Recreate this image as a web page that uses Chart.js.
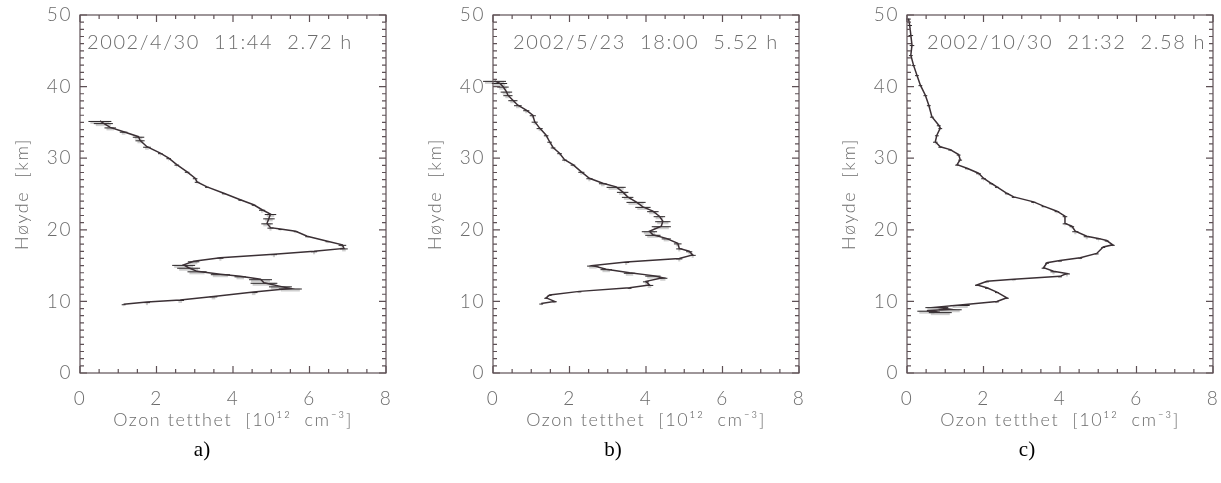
<!DOCTYPE html>
<html>
<head>
<meta charset="utf-8">
<script src="https://cdn.jsdelivr.net/npm/chart.js@4/dist/chart.umd.min.js"></script>
<style>
  body { margin: 0; background: #fff; width: 1221px; height: 483px; position: relative; overflow: hidden; }
  .panel { position: absolute; top: 0; width: 394px; height: 483px; }
  .lab { position: absolute; top: 437px; font-family: "Liberation Serif", serif; font-size: 21px; color: #000; transform: translateX(-50%); }
</style>
</head>
<body>
<div class="panel" style="left:0px"><canvas id="chart-a"></canvas></div>
<div class="panel" style="left:413px"><canvas id="chart-b"></canvas></div>
<div class="panel" style="left:827px"><canvas id="chart-c"></canvas></div>
<div class="lab" style="left:202px">a)</div>
<div class="lab" style="left:613px">b)</div>
<div class="lab" style="left:1027px">c)</div>

<script>
// a) 2002/4/30
var altA = [35.2, 34.9, 34.3, 33.7, 33.0, 32.5, 31.6, 30.7, 30.0, 29.1, 28.1, 27.2, 26.7, 26.0, 25.1, 24.2, 23.5, 22.8, 22.2, 21.6,
  20.9, 20.3, 20.1, 19.8, 19.1, 18.4, 17.9, 17.4, 17.0, 16.6, 16.1, 15.6, 15.1, 14.7, 14.2, 13.8, 13.5, 13.1, 12.6, 12.1,
  11.8, 11.3, 10.7, 10.2, 9.9, 9.6];
var ozA = [0.52, 0.61, 0.79, 1.14, 1.53, 1.57, 1.75, 2.10, 2.32, 2.53, 2.80, 3.01, 3.06, 3.32, 3.76, 4.19, 4.54, 4.76, 4.98, 4.94,
  4.89, 4.98, 5.24, 5.64, 5.94, 6.47, 6.86, 6.90, 6.12, 5.07, 3.67, 2.97, 2.71, 2.84, 3.06, 3.67, 4.19, 4.72, 4.81, 5.24,
  5.50, 4.54, 3.49, 2.62, 1.75, 1.14];
var errA = [0.30, 0.25, 0.15, 0.10, 0.15, 0.12, 0.10, 0.06, 0.06, 0.06, 0.06, 0.06, 0.06, 0.05, 0.05, 0.05, 0.05, 0.08, 0.15, 0.15,
  0.15, 0.08, 0.05, 0.05, 0.05, 0.05, 0.10, 0.10, 0.08, 0.08, 0.08, 0.15, 0.30, 0.30, 0.25, 0.25, 0.15, 0.30, 0.35, 0.30,
  0.30, 0.10, 0.10, 0.10, 0.08, 0.05];

// b) 2002/5/23
var altB = [40.8, 40.5, 40.0, 39.3, 38.8, 38.1, 37.4, 36.7, 36.0, 35.1, 34.2, 33.2, 32.3, 31.5, 30.7, 29.8, 29.1, 28.1, 27.2, 26.5,
  26.0, 25.3, 24.6, 23.9, 23.2, 22.6, 21.9, 21.2, 20.5, 19.8, 19.3, 18.8, 18.1, 17.4, 17.0, 16.5, 16.0, 15.5, 15.0, 14.5,
  14.0, 13.6, 13.3, 12.8, 12.3, 11.9, 11.4, 10.9, 10.5, 10.0, 9.7];
var ozB = [0.04, 0.17, 0.26, 0.35, 0.39, 0.52, 0.65, 0.87, 1.04, 1.09, 1.22, 1.39, 1.48, 1.57, 1.74, 1.87, 2.09, 2.31, 2.52, 2.87,
  3.22, 3.39, 3.52, 3.74, 3.92, 4.18, 4.35, 4.44, 4.40, 4.09, 4.18, 4.53, 4.83, 4.87, 5.13, 5.22, 4.87, 3.48, 2.61, 2.96,
  3.57, 4.18, 4.44, 4.00, 4.09, 3.57, 2.26, 1.48, 1.39, 1.61, 1.26];
var errB = [0.30, 0.20, 0.15, 0.15, 0.12, 0.12, 0.10, 0.08, 0.08, 0.08, 0.08, 0.06, 0.06, 0.06, 0.06, 0.06, 0.06, 0.08, 0.08, 0.10,
  0.25, 0.15, 0.15, 0.25, 0.20, 0.15, 0.15, 0.20, 0.25, 0.20, 0.20, 0.12, 0.10, 0.08, 0.08, 0.08, 0.08, 0.08, 0.15, 0.15,
  0.15, 0.20, 0.12, 0.08, 0.10, 0.05, 0.05, 0.05, 0.05, 0.05, 0.05];

// c) 2002/10/30
var altC = [49.5, 48.6, 47.2, 45.8, 44.4, 43.0, 41.6, 40.2, 38.8, 37.4, 35.8, 34.6, 34.2, 33.2, 32.3, 31.6, 31.2, 30.5, 29.8, 29.1,
  28.6, 27.9, 27.2, 26.5, 26.0, 25.1, 24.6, 23.9, 23.3, 22.6, 21.9, 20.9, 20.5, 19.8, 19.1, 18.8, 18.5, 17.9, 17.6, 16.7,
  16.1, 15.7, 15.4, 14.7, 14.2, 13.9, 13.5, 13.1, 12.8, 12.3, 11.9, 11.3, 10.5, 10.0, 9.5, 9.2, 8.9, 8.7, 8.5];
var ozC = [0.04, 0.07, 0.10, 0.13, 0.10, 0.17, 0.26, 0.35, 0.48, 0.57, 0.65, 0.83, 0.87, 0.78, 0.74, 0.87, 1.13, 1.35, 1.39, 1.31,
  1.57, 1.87, 2.00, 2.20, 2.35, 2.61, 2.79, 3.31, 3.57, 3.92, 4.13, 4.13, 4.31, 4.40, 4.70, 5.00, 5.22, 5.38, 5.13, 4.96,
  4.53, 4.00, 3.66, 3.57, 3.83, 4.18, 4.00, 2.79, 2.09, 1.83, 2.09, 2.35, 2.61, 2.35, 1.39, 0.78, 1.13, 0.52, 0.87];
var errC = [0.06, 0.06, 0.06, 0.06, 0.05, 0.05, 0.05, 0.05, 0.05, 0.05, 0.05, 0.05, 0.05, 0.05, 0.06, 0.05, 0.05, 0.05, 0.05, 0.05,
  0.05, 0.06, 0.06, 0.05, 0.05, 0.05, 0.05, 0.06, 0.05, 0.06, 0.06, 0.06, 0.06, 0.08, 0.08, 0.06, 0.05, 0.05, 0.05, 0.05,
  0.05, 0.05, 0.05, 0.05, 0.08, 0.08, 0.05, 0.05, 0.05, 0.05, 0.05, 0.05, 0.05, 0.05, 0.25, 0.30, 0.30, 0.25, 0.30];

var stampA = '2002/4/30  11:44  2.72 h';
var stampB = '2002/5/23  18:00  5.52 h';
var stampC = '2002/10/30  21:32  2.58 h';

var xTitle = 'Ozon tetthet  [10¹²  cm⁻³]';
var yTitle = 'Høyde  [km]';

var lineCol = '#3b3035';
var axisCol = '#5e5055';
var textCol = '#6c6c6c';
var idlFont = 'Lato, "DejaVu Sans", sans-serif';

// wide letter spacing like the IDL vector font
var spacing = {
  id: 'spacing',
  beforeDraw: function (chart) { chart.ctx.letterSpacing = '1.6px'; }
};

// error bars, drawn from the scales
var errBars = {
  id: 'errBars',
  beforeDatasetsDraw: function (chart) {
    var ctx = chart.ctx, x = chart.scales.x, y = chart.scales.y;
    var ds = chart.data.datasets[0];
    ctx.save();
    ds.data.forEach(function (p, i) {
      var e = ds.errors[i];
      var py = y.getPixelForValue(p.y);
      var x1 = x.getPixelForValue(p.x - e), x2 = x.getPixelForValue(p.x + e);
      ctx.strokeStyle = 'rgba(160,160,160,0.5)';
      ctx.lineWidth = 3;
      ctx.beginPath(); ctx.moveTo(x1 + 2, py + 1.5); ctx.lineTo(x2 - 2, py + 1.5); ctx.stroke();
      ctx.strokeStyle = '#2a2527';
      ctx.lineWidth = 1;
      ctx.beginPath(); ctx.moveTo(x1, py + 0.5); ctx.lineTo(x2, py + 0.5); ctx.stroke();
    });
    ctx.restore();
  }
};

// IDL style box: ticks inward on all four sides + date stamp
var boxTicks = {
  id: 'boxTicks',
  afterDraw: function (chart) {
    var ctx = chart.ctx, a = chart.chartArea, x = chart.scales.x, y = chart.scales.y;
    ctx.save();
    ctx.strokeStyle = axisCol;
    ctx.lineWidth = 1.2;
    ctx.strokeRect(a.left, a.top, a.right - a.left, a.bottom - a.top);
    ctx.beginPath();
    for (var v = 0; v <= 8.001; v += 0.5) {
      var len = (Math.round(v * 2) % 4 == 0) ? 7 : 4;
      var px = x.getPixelForValue(v);
      ctx.moveTo(px, a.bottom); ctx.lineTo(px, a.bottom - len);
      ctx.moveTo(px, a.top); ctx.lineTo(px, a.top + len);
    }
    for (var h = 0; h <= 50; h++) {
      var len2 = (h % 10 == 0) ? 7 : 4;
      var py = y.getPixelForValue(h);
      ctx.moveTo(a.left, py); ctx.lineTo(a.left + len2, py);
      ctx.moveTo(a.right, py); ctx.lineTo(a.right - len2, py);
    }
    ctx.stroke();
    ctx.fillStyle = textCol;
    ctx.font = '300 20px ' + idlFont;
    ctx.textBaseline = 'middle';
    ctx.letterSpacing = '1.6px';
    ctx.fillText(chart.options.plugins.stamp.text, a.left + chart.options.plugins.stamp.offset, 43);
    ctx.restore();
  }
};

function makeChart(id, alt, oz, err, stamp, off) {
  var pts = alt.map(function (h, i) { return { x: oz[i], y: h }; });
  var tickFont = { family: idlFont, size: 19, weight: '300' };
  var titleFont = { family: idlFont, size: 18, weight: '300' };
  return new Chart(document.getElementById(id), {
    type: 'scatter',
    data: {
      datasets: [{
        data: pts,
        errors: err,
        showLine: true,
        borderColor: lineCol,
        borderWidth: 1.5,
        pointRadius: 0,
        tension: 0
      }]
    },
    options: {
      responsive: false,
      animation: false,
      layout: { padding: { left: 0, right: 8, top: 15, bottom: 40 } },
      plugins: {
        legend: { display: false },
        tooltip: { enabled: false },
        stamp: { text: stamp, offset: off }
      },
      scales: {
        x: {
          type: 'linear', min: 0, max: 8,
          afterFit: function (s) { s.height = 70; s.paddingLeft = 0; s.paddingRight = 0; },
          grid: { display: false },
          border: { display: false },
          ticks: { stepSize: 2, padding: 6, color: textCol, font: tickFont },
          title: { display: true, text: xTitle, color: textCol, font: titleFont, padding: { top: 0, bottom: 12 } }
        },
        y: {
          type: 'linear', min: 0, max: 50,
          afterFit: function (s) { s.width = 80; s.paddingTop = 0; s.paddingBottom = 0; },
          grid: { display: false },
          border: { display: false },
          ticks: { stepSize: 10, padding: 0, color: textCol, font: tickFont },
          title: { display: true, text: yTitle, color: textCol, font: titleFont, padding: { top: 11, bottom: 0 } }
        }
      }
    },
    plugins: [spacing, errBars, boxTicks]
  });
}

document.querySelectorAll('canvas').forEach(function (c) { c.width = 394; c.height = 483; });
makeChart('chart-a', altA, ozA, errA, stampA, 7);
makeChart('chart-b', altB, ozB, errB, stampB, 20);
makeChart('chart-c', altC, ozC, errC, stampC, 20);
</script>
</body>
</html>
